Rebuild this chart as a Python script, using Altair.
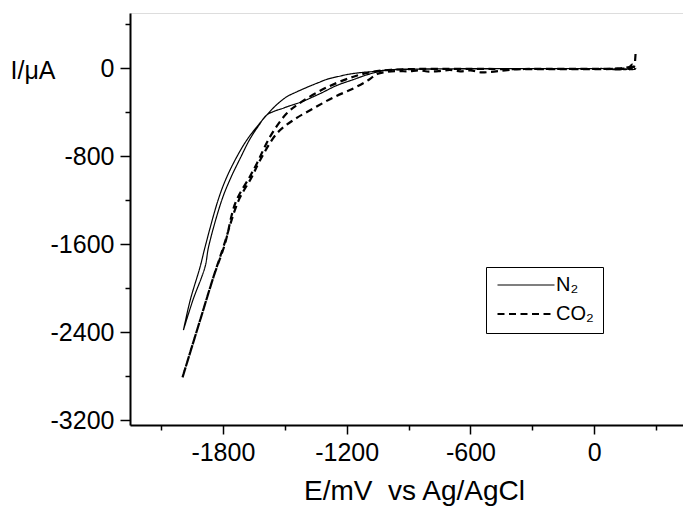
import altair as alt
import pandas as pd

# ---- data (E in mV vs Ag/AgCl, I in µA) ----
# N2: cathodic sweep (outer, upper branch at the knee) and return sweep
n2_fwd_E = [200, 185, 170, 150, 120, 60, 45, 0, -300, -600, -800, -950, -1005, -1037,
            -1070, -1134, -1200, -1231, -1296, -1340, -1393, -1440, -1490, -1540, -1587,
            -1635, -1684, -1732, -1783, -1823, -1886, -1910, -1958, -1991]
n2_fwd_I = [-12, 15, 0, -15, -8, -10, -5, -5, -5, -6, -8, -12, -18, -24,
            -32, -42, -60, -73, -103, -135, -176, -215, -261, -335, -427,
            -534, -655, -806, -1000, -1200, -1625, -1806, -2109, -2382]

n2_rev_E = [-1991, -1945, -1886, -1869, -1805, -1762, -1712, -1670, -1625, -1587, -1500,
            -1417, -1328, -1247, -1167, -1102, -1037, -1000, -900, -600, -300, 0, 45, 80,
            120, 150, 175, 200]
n2_rev_I = [-2382, -2109, -1806, -1624, -1200, -1000, -806, -650, -520, -427, -360,
            -306, -232, -158, -105, -62, -30, -20, -12, -8, -6, -6, -5, -12,
            -18, -8, -15, -12]

# CO2: cathodic sweep (outer, lower branch) and return sweep (inner)
co2_fwd_E = [200, 198, 195, 185, 170, 150, 100, 50, 0, -200, -375, -400, -450, -500,
             -550, -600, -650, -700, -750, -800, -850, -900, -950, -1005, -1053, -1094,
             -1167, -1264, -1361, -1458, -1538, -1619, -1659, -1725, -1797, -1845, -1910,
             -1996]
co2_fwd_I = [127, 73, 20, 5, -10, -5, -8, -10, -10, -10, -12, -15, -25, -35,
             -40, -22, -30, -18, -28, -32, -22, -30, -28, -35, -55, -109,
             -185, -267, -367, -473, -594, -836, -988, -1210, -1624, -1897, -2291,
             -2815]

co2_rev_E = [-1996, -1910, -1845, -1790, -1738, -1670, -1635, -1571, -1490, -1417, -1296,
             -1167, -1070, -1000, -900, -600, -375, -300, 0, 100, 170, 185, 200]
co2_rev_I = [-2815, -2291, -1897, -1600, -1220, -990, -867, -624, -412, -306, -176,
             -79, -33, -18, -10, -8, -10, -8, -8, -5, 10, 30, -8]

gases = ["N\u2082", "CO\u2082"]

x_major = [-1800, -1200, -600, 0]
x_minor = [-2100, -1500, -900, -300, 300]
y_major = [0, -800, -1600, -2400, -3200]
y_minor = [400, -400, -1200, -2000, -2800]

# ---- table ----
rows = []
for gas, parts in [(gases[0], [(n2_fwd_E, n2_fwd_I), (n2_rev_E, n2_rev_I)]),
                   (gases[1], [(co2_fwd_E, co2_fwd_I), (co2_rev_E, co2_rev_I)])]:
    k = 0
    for Es, Is in parts:
        for e, i in zip(Es, Is):
            rows.append({"E": e, "I": i, "gas": gas, "seq": k})
            k += 1
df = pd.DataFrame(rows)

FONT = "Liberation Sans"

x_axis = alt.Axis(
    values=x_major + x_minor,
    labelExpr="datum.value % 600 === 0 ? '' + datum.value : ''",
    title="E/mV\u00a0 vs Ag/AgCl",
    grid=False,
    tickSize={"condition": {"test": "datum.value % 600 === 0", "value": 9}, "value": 5},
    tickWidth=1.5, tickColor="black",
    domainColor="black", domainWidth=2,
    labelFont=FONT, labelFontSize=25, labelColor="black", labelPadding=6,
    labelFlush=False, labelOverlap=False, labelBaseline="top",
    titleFont=FONT, titleFontSize=28, titleFontWeight="normal", titleColor="black",
    titleX=284, titleY=66, titleBaseline="middle",
)
y_axis = alt.Axis(
    values=y_major + y_minor,
    labelExpr="datum.value % 800 === 0 ? '' + datum.value : ''",
    title="I/\u03bcA",
    grid=False,
    tickSize={"condition": {"test": "datum.value % 800 === 0", "value": 10}, "value": 5},
    tickWidth=1.5, tickColor="black",
    domainColor="black", domainWidth=2,
    labelFont=FONT, labelFontSize=25, labelColor="black", labelPadding=6,
    labelFlush=False, labelOverlap=False,
    titleFont=FONT, titleFontSize=25, titleFontWeight="normal", titleColor="black",
    titleAngle=0, titleAlign="left", titleBaseline="middle", titleX=-120, titleY=57,
)

legend = alt.Legend(
    title=None, orient="none", legendX=356, legendY=254, direction="vertical",
    symbolType="stroke", symbolSize=3249, symbolStrokeColor="black",
    clipHeight=18, rowPadding=9, padding=9, symbolOffset=1, labelOffset=0,
    labelFont=FONT, labelFontSize=20, labelColor="black",
    strokeColor="black", fillColor="white",
)

chart = alt.Chart(df).mark_line(color="black", clip=True, interpolate="catmull-rom").encode(
    x=alt.X("E:Q", scale=alt.Scale(domain=[-2250, 430], nice=False, zero=False), axis=x_axis),
    y=alt.Y("I:Q", scale=alt.Scale(domain=[-3245, 500], nice=False, zero=False), axis=y_axis),
    strokeDash=alt.StrokeDash("gas:N", scale=alt.Scale(domain=gases, range=[[1, 0], [7, 4.5]]),
                              legend=legend),
    strokeWidth=alt.StrokeWidth("gas:N", scale=alt.Scale(domain=gases, range=[1.2, 2.2]),
                                legend=None),
    detail="gas:N",
    order="seq:Q",
).properties(
    width=553, height=412,
    autosize=alt.AutoSizeParams(type="none"),
    padding={"left": 122, "top": 5, "right": 0, "bottom": 83},
).configure_view(stroke="transparent").configure_legend(strokeWidth=1.5).configure(background="white")

chart.save("out.html", embed_options={"renderer": "svg", "actions": False})
